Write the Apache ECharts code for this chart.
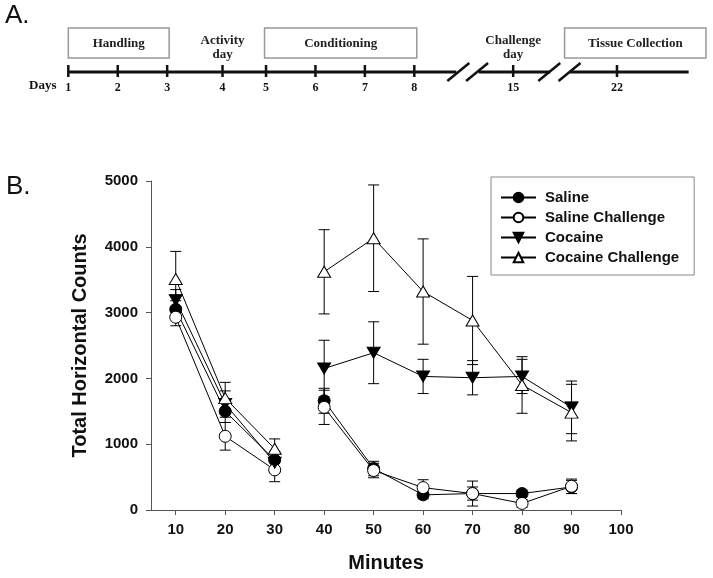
<!DOCTYPE html>
<html>
<head>
<meta charset="utf-8">
<script src="https://cdn.jsdelivr.net/npm/echarts@6/dist/echarts.min.js"></script>
<style>
  html, body { margin: 0; padding: 0; background: #fff; }
  #main { width: 713px; height: 578px; }
</style>
</head>
<body>
<div id="main"></div>
<script>
// --- panel B data ---
const minutes = [10, 20, 30, 40, 50, 60, 70, 80, 90];
const xTicks = [10, 20, 30, 40, 50, 60, 70, 80, 90, 100];
const sessionBreakAfter = 30; // no line between 30 and 40

const salineMean = [3050, 1500, 760, 1660, 630, 230, 250, 250, 350];
const salineErr = [130, 170, 130, 190, 110, 60, 100, 50, 100];
const salineChMean = [2930, 1120, 610, 1560, 600, 340, 250, 100, 360];
const salineChErr = [130, 210, 180, 260, 110, 120, 190, 60, 110];
const cocaineMean = [3190, 1610, 720, 2150, 2390, 2030, 2010, 2030, 1560];
const cocaineErr = [160, 200, 150, 430, 470, 260, 260, 260, 400];
const cocaineChMean = [3510, 1700, 930, 3620, 4130, 3320, 2880, 1900, 1480];
const cocaineChErr = [420, 240, 150, 640, 810, 800, 670, 430, 430];

// --- panel A timeline (day ticks on a compressed slot scale) ---
const dayLabels = ['1', '2', '3', '4', '5', '6', '7', '8', '15', '22'];
const daySlots = [0, 1, 2, 3.12, 4, 5, 6, 7, 9, 11.1];
const lineSegments = [[0, 7.85], [8.3, 9.75], [10.15, 12.55]];
const breakSlots = [7.89, 8.27, 9.73, 10.14];
const phaseNames = ['Handling', 'Conditioning', 'Tissue Collection'];
const phaseStart = [0, 3.97, 10.04];
const phaseEnd = [2.04, 7.05, 12.9];
const eventNames = ['Activity\nday', 'Challenge\nday'];
const eventSlots = [3.12, 9];

const SANS = '"Liberation Sans", Arial, sans-serif';
const SERIF = '"Liberation Serif", "Times New Roman", serif';

function lineData(mean) {
    const out = [];
    minutes.forEach((m, i) => {
        out.push([m, mean[i]]);
        if (m === sessionBreakAfter && i < minutes.length - 1) {
            out.push([(m + minutes[i + 1]) / 2, '-']);
        }
    });
    return out;
}

function errData(mean, err) {
    return minutes.map((m, i) => [m, mean[i] - err[i], mean[i] + err[i]]);
}

function renderErr(params, api) {
    const lo = api.coord([api.value(0), api.value(1)]);
    const hi = api.coord([api.value(0), api.value(2)]);
    const hw = 5.5;
    const st = { stroke: '#000', lineWidth: 1 };
    return {
        type: 'group',
        children: [
            { type: 'line', shape: { x1: lo[0], y1: lo[1], x2: hi[0], y2: hi[1] }, style: st },
            { type: 'line', shape: { x1: lo[0] - hw, y1: lo[1], x2: lo[0] + hw, y2: lo[1] }, style: st },
            { type: 'line', shape: { x1: hi[0] - hw, y1: hi[1], x2: hi[0] + hw, y2: hi[1] }, style: st }
        ]
    };
}

const groups = [
    { name: 'Saline', mean: salineMean, err: salineErr, symbol: 'circle', fill: '#000', size: 12, rot: 0 },
    { name: 'Saline Challenge', mean: salineChMean, err: salineChErr, symbol: 'circle', fill: '#fff', size: 12, rot: 0 },
    { name: 'Cocaine', mean: cocaineMean, err: cocaineErr, symbol: 'triangle', fill: '#000', size: [13, 11], rot: 180 },
    { name: 'Cocaine Challenge', mean: cocaineChMean, err: cocaineChErr, symbol: 'triangle', fill: '#fff', size: [13, 11], rot: 0 }
];

const series = [];
groups.forEach(g => {
    series.push({
        name: g.name + ' SEM',
        type: 'custom',
        xAxisIndex: 0,
        yAxisIndex: 0,
        z: 1,
        renderItem: renderErr,
        data: errData(g.mean, g.err)
    });
});
groups.forEach(g => {
    series.push({
        name: g.name,
        type: 'line',
        xAxisIndex: 0,
        yAxisIndex: 0,
        z: 3,
        data: lineData(g.mean),
        connectNulls: false,
        symbol: g.symbol,
        symbolSize: g.size,
        symbolRotate: g.rot,
        showAllSymbol: true,
        lineStyle: { color: '#000', width: 1 },
        itemStyle: { color: g.fill, borderColor: '#000', borderWidth: 1, opacity: 1 },
        emphasis: { disabled: true }
    });
});

// timeline pieces
series.push({
    type: 'custom',
    xAxisIndex: 1,
    yAxisIndex: 1,
    data: lineSegments.map(s => [s[0], 0, s[1]]),
    renderItem(params, api) {
        const a = api.coord([api.value(0), 0]);
        const b = api.coord([api.value(2), 0]);
        return { type: 'line', shape: { x1: a[0], y1: a[1], x2: b[0], y2: b[1] }, style: { stroke: '#111', lineWidth: 3 } };
    }
});
series.push({
    type: 'custom',
    xAxisIndex: 1,
    yAxisIndex: 1,
    data: breakSlots.map(s => [s, 0]),
    renderItem(params, api) {
        const p = api.coord([api.value(0), 0]);
        return { type: 'line', shape: { x1: p[0] - 11, y1: p[1] + 9, x2: p[0] + 11, y2: p[1] - 9 }, style: { stroke: '#111', lineWidth: 2.5 } };
    }
});
series.push({
    type: 'custom',
    xAxisIndex: 1,
    yAxisIndex: 1,
    z: 4,
    data: daySlots.map(s => [s, 0]),
    renderItem(params, api) {
        const p = api.coord([api.value(0), 0]);
        return {
            type: 'group',
            children: [
                { type: 'line', shape: { x1: p[0], y1: p[1] - 7, x2: p[0], y2: p[1] + 5 }, style: { stroke: '#111', lineWidth: 2.5 } },
                { type: 'text', style: { x: p[0], y: p[1] + 16, text: dayLabels[params.dataIndex], fill: '#111', font: 'bold 12px ' + SERIF, align: 'center', verticalAlign: 'middle' } }
            ]
        };
    }
});
series.push({
    type: 'custom',
    xAxisIndex: 1,
    yAxisIndex: 1,
    data: phaseNames.map((n, i) => [phaseStart[i], 0, phaseEnd[i]]),
    renderItem(params, api) {
        const a = api.coord([api.value(0), 0]);
        const b = api.coord([api.value(2), 0]);
        const top = a[1] - 44, h = 30;
        return {
            type: 'group',
            children: [
                { type: 'rect', shape: { x: a[0], y: top, width: b[0] - a[0], height: h }, style: { fill: '#fff', stroke: '#999', lineWidth: 1.5 } },
                { type: 'text', style: { x: (a[0] + b[0]) / 2, y: top + h / 2 + 1, text: phaseNames[params.dataIndex], fill: '#222', font: 'bold 13px ' + SERIF, align: 'center', verticalAlign: 'middle' } }
            ]
        };
    }
});
series.push({
    type: 'custom',
    xAxisIndex: 1,
    yAxisIndex: 1,
    data: eventSlots.map(s => [s, 0]),
    renderItem(params, api) {
        const p = api.coord([api.value(0), 0]);
        return { type: 'text', style: { x: p[0], y: p[1] - 10, text: eventNames[params.dataIndex], fill: '#222', font: 'bold 13px ' + SERIF, lineHeight: 14, align: 'center', verticalAlign: 'bottom' } };
    }
});

const chart = echarts.init(document.getElementById('main'));
chart.setOption({
    animation: false,
    backgroundColor: '#fff',
    grid: [
        { left: 151, right: 92, top: 181, bottom: 68 },
        { left: 68.3, right: 2.1, top: 22, height: 50 }
    ],
    xAxis: [
        {
            type: 'value',
            gridIndex: 0,
            min: 5,
            max: 100,
            name: 'Minutes',
            nameLocation: 'middle',
            nameGap: 43,
            nameTextStyle: { fontFamily: SANS, fontWeight: 'bold', fontSize: 20, color: '#111' },
            axisLine: { lineStyle: { color: '#555', width: 1 } },
            axisTick: { customValues: xTicks, length: 5, lineStyle: { color: '#555' } },
            axisLabel: { customValues: xTicks, margin: 12, fontFamily: SANS, fontWeight: 'bold', fontSize: 15, color: '#111' },
            splitLine: { show: false }
        },
        { type: 'value', gridIndex: 1, min: 0, max: 13, show: false }
    ],
    yAxis: [
        {
            type: 'value',
            gridIndex: 0,
            min: 0,
            max: 5000,
            interval: 1000,
            name: 'Total Horizontal Counts',
            nameLocation: 'middle',
            nameGap: 61,
            nameTextStyle: { fontFamily: SANS, fontWeight: 'bold', fontSize: 20, color: '#111' },
            axisLine: { show: true, lineStyle: { color: '#555', width: 1 } },
            axisTick: { show: true, length: 5, lineStyle: { color: '#555' } },
            axisLabel: { margin: 13, fontFamily: SANS, fontWeight: 'bold', fontSize: 15, color: '#111', formatter: v => String(v) },
            splitLine: { show: false }
        },
        { type: 'value', gridIndex: 1, min: 0, max: 1, show: false }
    ],
    legend: {
        data: groups.map(g => g.name),
        orient: 'vertical',
        left: 491,
        top: 177,
        padding: [13, 15, 10, 9],
        itemGap: 5,
        itemWidth: 35,
        itemHeight: 12,
        borderColor: '#888',
        borderWidth: 1,
        backgroundColor: '#fff',
        textStyle: { fontFamily: SANS, fontWeight: 'bold', fontSize: 15, color: '#111', padding: [0, 0, 0, 4] }
    },
    graphic: [
        { type: 'text', left: 5, top: 3, style: { text: 'A.', font: '26px ' + SANS, fill: '#111' } },
        { type: 'text', left: 6, top: 174, style: { text: 'B.', font: '26px ' + SANS, fill: '#111' } },
        { type: 'text', left: 29, top: 79, style: { text: 'Days', font: 'bold 13px ' + SERIF, fill: '#111' } }
    ],
    series: series
});
</script>
</body>
</html>
